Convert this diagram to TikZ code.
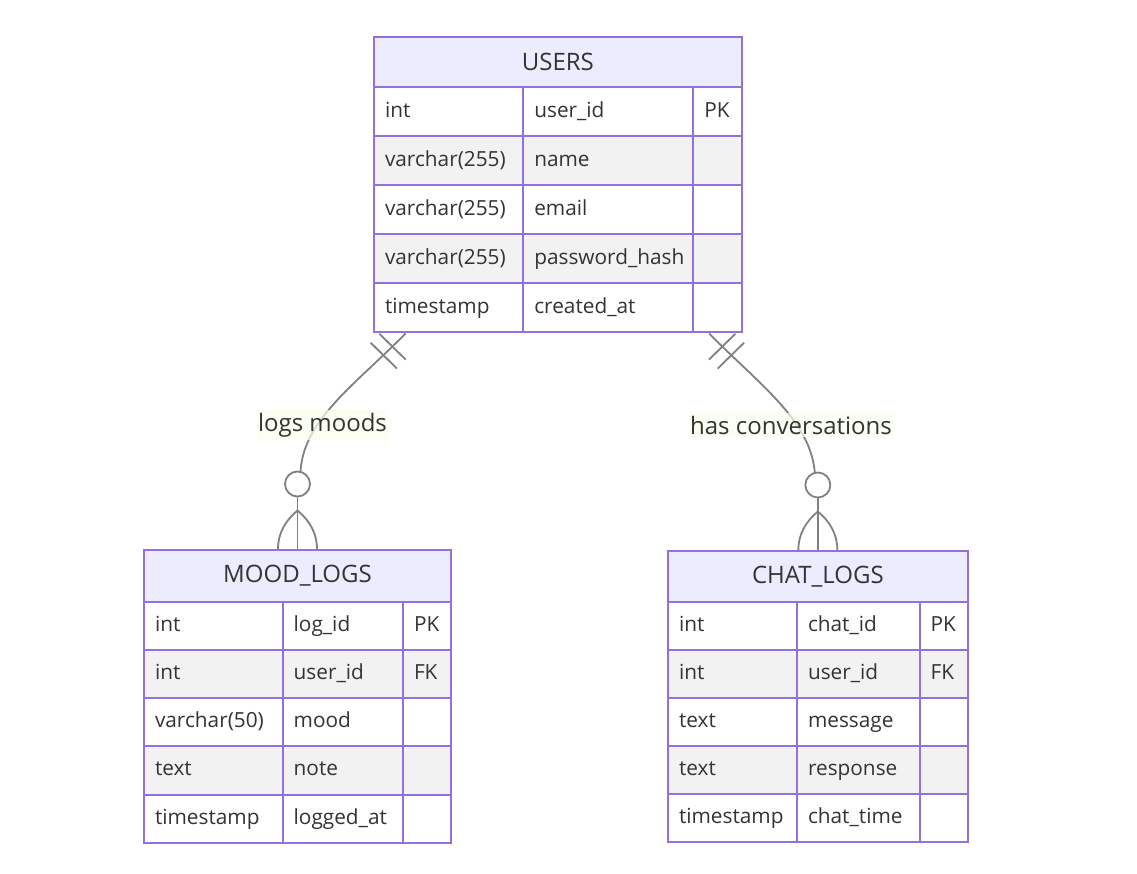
\documentclass[tikz,border=0pt]{standalone}
\usepackage{fontspec}
\setmainfont{Open Sans}
\usepackage{xcolor}
\usepackage{tikz}
\definecolor{entityline}{HTML}{9370DB}
\definecolor{headerfill}{HTML}{ECECFF}
\definecolor{rowgrey}{HTML}{F2F2F2}
\definecolor{relline}{HTML}{808080}
\definecolor{labelbg}{RGB}{249, 255, 236}
\definecolor{textdark}{HTML}{333333}
\usetikzlibrary{positioning, calc}

\begin{document}
\begin{tikzpicture}[
    x=1pt, y=-1pt,
    header/.style={draw=entityline, fill=headerfill, line width=2pt, anchor=north west, inner sep=0pt, font=\fontsize{24}{28}\selectfont, text=textdark},
    cell/.style={draw=entityline, line width=2pt, anchor=north west, inner xsep=11pt, inner ysep=0pt, align=left, text height=15pt, text depth=4pt, font=\fontsize{20.8}{25}\selectfont, text=textdark},
    relation/.style={draw=relline, line width=1.8pt},
    rellabel/.style={fill=labelbg, fill opacity=0.7, text opacity=1, text=textdark, inner xsep=1pt, inner ysep=3pt, font=\fontsize{24}{28}\selectfont}
]
    \useasboundingbox (0,0) rectangle (1137,874);

    % Users
    \node[header, minimum width=367.7pt, minimum height=50.5pt] (users) at (373,36) {USERS};
    \foreach \type/\attr/\key [count=\i] in {int/user\_id/PK, varchar(255)/name/{}, varchar(255)/email/{}, varchar(255)/password\_hash/{}, timestamp/created\_at/{}} {
        \pgfmathsetmacro{\rowy}{86.5+(\i-1)*49}
        \ifodd\i\relax \def\rowfill{white}\else \def\rowfill{rowgrey}\fi
        \node[cell, fill=\rowfill, minimum height=49pt, text width=127.3pt] (users-\i-a) at (373,\rowy) {\mbox{\type}};
        \node[cell, fill=\rowfill, minimum height=49pt, text width=148pt] (users-\i-b) at (522.3,\rowy) {\mbox{\attr}};
        \node[cell, fill=\rowfill, minimum height=49pt, text width=26.4pt] (users-\i-c) at (692.3,\rowy) {\mbox{\key}};
    }

    % Mood logs
    \node[header, minimum width=307pt, minimum height=51.7pt] (moodlogs) at (143,549) {MOOD\_LOGS};
    \foreach \type/\attr/\key [count=\i] in {int/log\_id/PK, int/user\_id/FK, varchar(50)/mood/{}, text/note/{}, timestamp/logged\_at/{}} {
        \pgfmathsetmacro{\rowy}{600.7+(\i-1)*48.2}
        \ifodd\i\relax \def\rowfill{white}\else \def\rowfill{rowgrey}\fi
        \node[cell, fill=\rowfill, minimum height=48.2pt, text width=116.7pt] (moodlogs-\i-a) at (143,\rowy) {\mbox{\type}};
        \node[cell, fill=\rowfill, minimum height=48.2pt, text width=98.3pt] (moodlogs-\i-b) at (281.7,\rowy) {\mbox{\attr}};
        \node[cell, fill=\rowfill, minimum height=48.2pt, text width=26pt] (moodlogs-\i-c) at (402,\rowy) {\mbox{\key}};
    }

    % Chat logs
    \node[header, minimum width=299.7pt, minimum height=51pt] (chatlogs) at (667,550) {CHAT\_LOGS};
    \foreach \type/\attr/\key [count=\i] in {int/chat\_id/PK, int/user\_id/FK, text/message/{}, text/response/{}, timestamp/chat\_time/{}} {
        \pgfmathsetmacro{\rowy}{601+(\i-1)*48}
        \ifodd\i\relax \def\rowfill{white}\else \def\rowfill{rowgrey}\fi
        \node[cell, fill=\rowfill, minimum height=48pt, text width=107pt] (chatlogs-\i-a) at (667,\rowy) {\mbox{\type}};
        \node[cell, fill=\rowfill, minimum height=48pt, text width=100.7pt] (chatlogs-\i-b) at (796,\rowy) {\mbox{\attr}};
        \node[cell, fill=\rowfill, minimum height=48pt, text width=26pt] (chatlogs-\i-c) at (918.7,\rowy) {\mbox{\key}};
    }

    % Users -- mood logs
    \coordinate (moodstart) at ($(users-5-a.south west)+(32.5,0)$);
    \coordinate (m1) at ($(moodstart)+(-50,51)$);
    \coordinate (m2) at (303,420);
    \coordinate (mcirc) at ($(moodlogs.north)+(0,-65)$);
    \coordinate (msplay) at ($(moodlogs.north)+(0,-38.5)$);
    \coordinate (mb1) at ($(moodstart)!18.5pt!(m1)$);
    \coordinate (mb2) at ($(moodstart)!31pt!(m1)$);
    \draw[relation] (moodstart) .. controls (m1) and (m2) .. ($(mcirc)+(3,-12.1)$);
    \draw[relation] ($(mb1)!18.5pt!90:(moodstart)$) -- ($(mb1)!18.5pt!-90:(moodstart)$);
    \draw[relation] ($(mb2)!18.5pt!90:(moodstart)$) -- ($(mb2)!18.5pt!-90:(moodstart)$);
    \draw[relation] (mcirc) circle[radius=12.5pt];
    \draw[relation] ($(mcirc)+(0,12.5)$) -- (moodlogs.north);
    \draw[relation] (msplay) .. controls +(-12,10) and +(0,-16) .. ($(moodlogs.north)+(-19.5,0)$);
    \draw[relation] (msplay) .. controls +(12,10) and +(0,-16) .. ($(moodlogs.north)+(19.5,0)$);

    % Users -- chat logs
    \coordinate (chatstart) at ($(users-5-c.south east)+(-33.5,0)$);
    \coordinate (c1) at ($(chatstart)+(50,51)$);
    \coordinate (c2) at (810.5,420);
    \coordinate (ccirc) at ($(chatlogs.north)+(0,-65)$);
    \coordinate (csplay) at ($(chatlogs.north)+(0,-38.5)$);
    \coordinate (cb1) at ($(chatstart)!18.5pt!(c1)$);
    \coordinate (cb2) at ($(chatstart)!31pt!(c1)$);
    \draw[relation] (chatstart) .. controls (c1) and (c2) .. ($(ccirc)+(-3,-12.1)$);
    \draw[relation] ($(cb1)!18.5pt!90:(chatstart)$) -- ($(cb1)!18.5pt!-90:(chatstart)$);
    \draw[relation] ($(cb2)!18.5pt!90:(chatstart)$) -- ($(cb2)!18.5pt!-90:(chatstart)$);
    \draw[relation] (ccirc) circle[radius=12.5pt];
    \draw[relation] ($(ccirc)+(0,12.5)$) -- (chatlogs.north);
    \draw[relation] (csplay) .. controls +(-12,10) and +(0,-16) .. ($(chatlogs.north)+(-19.5,0)$);
    \draw[relation] (csplay) .. controls +(12,10) and +(0,-16) .. ($(chatlogs.north)+(19.5,0)$);

    % Labels
    \node[rellabel] (moodlabel) at (322.5,425) {logs moods};
    \node[rellabel] (chatlabel) at (791,425) {has conversations};
\end{tikzpicture}
\end{document}
